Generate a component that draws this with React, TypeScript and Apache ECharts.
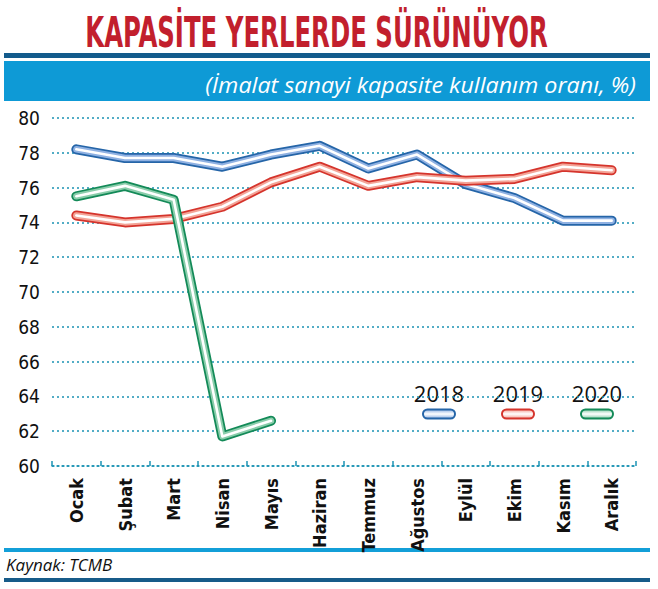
import React, { useEffect, useRef } from 'react';
import * as echarts from 'echarts';

// --- data ---
const months = ['Ocak', 'Şubat', 'Mart', 'Nisan', 'Mayıs', 'Haziran', 'Temmuz', 'Ağustos', 'Eylül', 'Ekim', 'Kasım', 'Aralık'];
const years = ['2018', '2019', '2020'];
const values2018 = [78.2, 77.7, 77.7, 77.2, 77.9, 78.4, 77.1, 77.9, 76.2, 75.4, 74.1, 74.1];
const values2019 = [74.4, 74.0, 74.2, 74.9, 76.3, 77.2, 76.1, 76.6, 76.4, 76.5, 77.2, 77.0];
const values2020 = [75.5, 76.1, 75.3, 61.7, 62.6];
const yMin = 60;
const yMax = 80;
const yStep = 2;

const title = 'KAPASİTE YERLERDE SÜRÜNÜYOR';
const subtitle = '(İmalat sanayi kapasite kullanım oranı, %)';
const source = 'Kaynak: TCMB';

// tube colours: outer, middle, core
const palette = [
  ['#2565a8', '#8fb1e2', '#ffffff'],
  ['#d5342c', '#f3a497', '#ffffff'],
  ['#138a58', '#8acdab', '#ffffff'],
];

const NARROW = '"Liberation Sans Narrow", "DejaVu Sans Condensed", "Arial Narrow", sans-serif';
const SANS = '"Open Sans", "Noto Sans", sans-serif';
const TEAL = '#1b93b4';

const measure = (text: string, font: string) => {
  const ctx = document.createElement('canvas').getContext('2d')!;
  ctx.font = font;
  return ctx.measureText(text).width;
};

const App: React.FC = () => {
  const chartRef = useRef<HTMLDivElement>(null);

  useEffect(() => {
    const chart = echarts.init(chartRef.current!, undefined, { renderer: 'svg' });

    const titleFont = `bold 42px ${NARROW}`;
    const subFont = `italic 21px ${SANS}`;
    const titleScale = 463 / measure(title, titleFont);
    const subScale = 431 / measure(subtitle, subFont);

    const allValues = [values2018, values2019, values2020];

    // each year drawn as three stacked lines to get the tube look
    const series: any[] = [];
    allValues.forEach((vals, i) => {
      const widths = [10, 6.5, 2.6];
      widths.forEach((w, k) => {
        series.push({
          name: years[i],
          type: 'line',
          data: vals,
          symbol: 'none',
          z: 2 + i * 3 + k,
          silent: true,
          lineStyle: {
            color: palette[i][k],
            width: w,
            cap: 'round',
            join: 'round',
          },
        });
      });
    });

    const legendX = [439, 518, 597];
    const legendItems = years.flatMap((y, i) => [
      {
        type: 'text',
        x: legendX[i],
        y: 393,
        style: {
          text: y,
          font: `22px ${SANS}`,
          fill: '#111',
          textAlign: 'center',
          textVerticalAlign: 'middle',
        },
      },
      {
        type: 'rect',
        shape: { x: legendX[i] - 16, y: 409.5, width: 32, height: 9, r: 4.5 },
        style: {
          fill: new echarts.graphic.LinearGradient(0, 0, 0, 1, [
            { offset: 0, color: palette[i][1] },
            { offset: 0.5, color: '#ffffff' },
            { offset: 1, color: palette[i][1] },
          ]),
          stroke: palette[i][0],
          lineWidth: 2,
        },
      },
    ]);

    const options = {
      animation: false,
      grid: { left: 52, right: 22, top: 118, bottom: 123, containLabel: false },
      xAxis: {
        type: 'category',
        data: months,
        boundaryGap: true,
        axisLine: { show: true, lineStyle: { color: TEAL, width: 1.5, type: [2, 3] } },
        axisTick: { show: true, inside: true, length: 5, lineStyle: { color: TEAL, width: 1.5 } },
        axisLabel: {
          rotate: 90,
          margin: 12,
          interval: 0,
          color: '#111',
          fontFamily: NARROW,
          fontWeight: 'bold',
          fontSize: 18,
        },
        splitLine: { show: false },
      },
      yAxis: {
        type: 'value',
        min: yMin,
        max: yMax,
        interval: yStep,
        axisLine: { show: false },
        axisTick: { show: false },
        axisLabel: { margin: 12, color: '#111', fontFamily: NARROW, fontSize: 19 },
        splitLine: { show: true, lineStyle: { color: TEAL, width: 1.5, type: [2, 3] } },
      },
      graphic: [
        {
          type: 'text',
          x: 316.5,
          y: 32,
          scaleX: titleScale,
          style: {
            text: title,
            font: titleFont,
            fill: '#c21f2d',
            textAlign: 'center',
            textVerticalAlign: 'middle',
          },
        },
        { type: 'rect', shape: { x: 4, y: 53, width: 646, height: 5 }, style: { fill: '#135b8c' } },
        { type: 'rect', shape: { x: 4, y: 61, width: 646, height: 40 }, style: { fill: '#0e9ad6' } },
        {
          type: 'text',
          x: 636,
          y: 84,
          scaleX: subScale,
          style: {
            text: subtitle,
            font: subFont,
            fill: '#ffffff',
            textAlign: 'right',
            textVerticalAlign: 'middle',
          },
        },
        ...legendItems,
        { type: 'rect', shape: { x: 4, y: 548, width: 646, height: 4 }, style: { fill: '#139fd8' } },
        {
          type: 'text',
          x: 6,
          y: 564,
          style: {
            text: source,
            font: `italic 17px ${SANS}`,
            fill: '#111',
            textAlign: 'left',
            textVerticalAlign: 'middle',
          },
        },
        { type: 'rect', shape: { x: 4, y: 578, width: 646, height: 4 }, style: { fill: '#175b89' } },
      ],
      series,
    };

    chart.setOption(options);

    return () => {
      chart.dispose();
    };
  }, []);

  return (
    <div
      ref={chartRef}
      style={{ position: 'absolute', left: 0, top: 0, width: '658px', height: '589px', background: '#fff' }}
    />
  );
};

export default App;
